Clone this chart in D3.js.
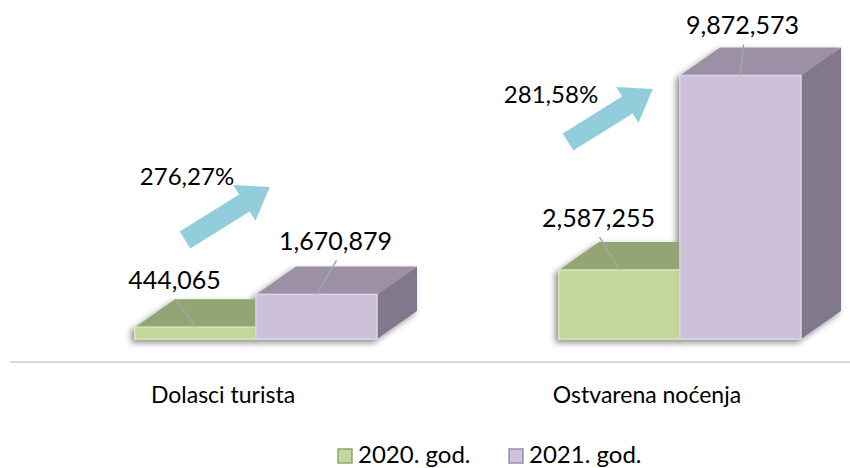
<!DOCTYPE html>
<html>
<head>
<meta charset="utf-8">
<script src="https://cdn.jsdelivr.net/npm/d3@7"></script>
<style>
	body { margin: 0; background: #fff; }
	svg { display: block; font-family: "Lato", "DejaVu Sans", sans-serif; }
</style>
</head>
<body>
<script>
// chart data
const categories = ["Dolasci turista", "Ostvarena noćenja"];
const seriesNames = ["2020. god.", "2021. god."];
const values2020 = [444065, 2587255];
const values2021 = [1670879, 9872573];
const growthLabels = ["276,27%", "281,58%"];

const width = 850;
const height = 468;
const depthX = 40; // 3d offset
const depthY = -28;

const colors = [
	{ front: "#c3d69b", top: "#93a572", side: "#7f8f5f", edge: "#d6e5b5" },
	{ front: "#cdc1da", top: "#9b90a6", side: "#81788b", edge: "#ddd3e8" }
];

const svg = d3
	.select("body")
	.append("svg")
	.attr("width", width)
	.attr("height", height);

const defs = svg.append("defs");
const shadow = defs
	.append("filter")
	.attr("id", "shadow")
	.attr("x", "-20%")
	.attr("y", "-20%")
	.attr("width", "140%")
	.attr("height", "140%");
shadow
	.append("feDropShadow")
	.attr("dx", -3)
	.attr("dy", 3)
	.attr("stdDeviation", 3)
	.attr("flood-color", "#000")
	.attr("flood-opacity", 0.45);

// scales
const x0 = d3.scaleBand().domain(categories).range([14, 862]);
const x1 = d3.scaleBand().domain(seriesNames).range([121, 363]);
const y = d3.scaleLinear().domain([0, 10000000]).range([339, 72]);

// floor line
svg.append("line")
	.attr("x1", 10)
	.attr("x2", 850)
	.attr("y1", 362)
	.attr("y2", 362)
	.attr("stroke", "#d9d9d9")
	.attr("stroke-width", 2);

const rows = categories.map((c, i) => ({
	cat: c,
	vals: [values2020[i], values2021[i]]
}));

// label offsets relative to the centre of the front top edge
const labelOffsets = [
	[[-21, -38], [19, -44]],
	[[-21, -43], [2, -41]]
];

rows.forEach((row, ci) => {
	const g = svg.append("g").attr("filter", "url(#shadow)");
	row.vals.forEach((v, si) => {
		const bx = x0(row.cat) + x1(seriesNames[si]);
		const bw = x1.bandwidth();
		const top = y(v);
		const base = y(0);
		const col = colors[si];
		// side
		g.append("path")
			.attr("d", `M${bx + bw},${base} L${bx + bw + depthX},${base + depthY} L${bx + bw + depthX},${top + depthY} L${bx + bw},${top} Z`)
			.attr("fill", col.side);
		// top
		g.append("path")
			.attr("d", `M${bx},${top} L${bx + depthX},${top + depthY} L${bx + bw + depthX},${top + depthY} L${bx + bw},${top} Z`)
			.attr("fill", col.top);
		// front
		g.append("rect")
			.attr("x", bx)
			.attr("y", top)
			.attr("width", bw)
			.attr("height", base - top)
			.attr("fill", col.front)
			.attr("stroke", col.edge)
			.attr("stroke-width", 1.5);
	});
});

// data labels and leader lines
rows.forEach((row, ci) => {
	row.vals.forEach((v, si) => {
		const bx = x0(row.cat) + x1(seriesNames[si]);
		const cx = bx + x1.bandwidth() / 2;
		const top = y(v);
		const off = labelOffsets[ci][si];
		const lx = cx + off[0];
		const ly = top + off[1];
		svg.append("line")
			.attr("x1", lx + 1)
			.attr("y1", ly + 10)
			.attr("x2", cx)
			.attr("y2", top)
			.attr("stroke", "#a6a6a6")
			.attr("stroke-width", 1.5);
		svg.append("text")
			.attr("x", lx)
			.attr("y", ly)
			.attr("text-anchor", "middle")
			.attr("font-size", 25)
			.attr("fill", "#000")
			.text(d3.format(",")(v));
	});
});

// growth arrows
const arrowPath = "M0,-10 L70,-10 L70,-21 L100,0 L70,21 L70,10 L0,10 Z";
const arrowPos = [
	{ x: 185, y: 240, pct: [187, 185] },
	{ x: 568, y: 142, pct: [551, 103] }
];
arrowPos.forEach((a, i) => {
	svg.append("path")
		.attr("d", arrowPath)
		.attr("transform", `translate(${a.x},${a.y}) rotate(-32)`)
		.attr("fill", "#92cddc");
	svg.append("text")
		.attr("x", a.pct[0])
		.attr("y", a.pct[1])
		.attr("text-anchor", "middle")
		.attr("font-size", 24)
		.text(growthLabels[i]);
});

// category axis labels
svg.append("g")
	.selectAll("text")
	.data(categories)
	.join("text")
	.attr("x", (d) => x0(d) + x0.bandwidth() / 2 - 3)
	.attr("y", 403)
	.attr("text-anchor", "middle")
	.attr("font-size", 23)
	.text((d) => d);

// legend
const legend = svg
	.append("g")
	.selectAll("g")
	.data(seriesNames)
	.join("g")
	.attr("transform", (d, i) => `translate(${338 + i * 171},449)`);
legend
	.append("rect")
	.attr("width", 14)
	.attr("height", 14)
	.attr("fill", (d, i) => colors[i].front)
	.attr("stroke", (d, i) => colors[i].top)
	.attr("stroke-width", 1.5);
legend
	.append("text")
	.attr("x", 20)
	.attr("y", 14)
	.attr("font-size", 24)
	.text((d) => d);
</script>
</body>
</html>
